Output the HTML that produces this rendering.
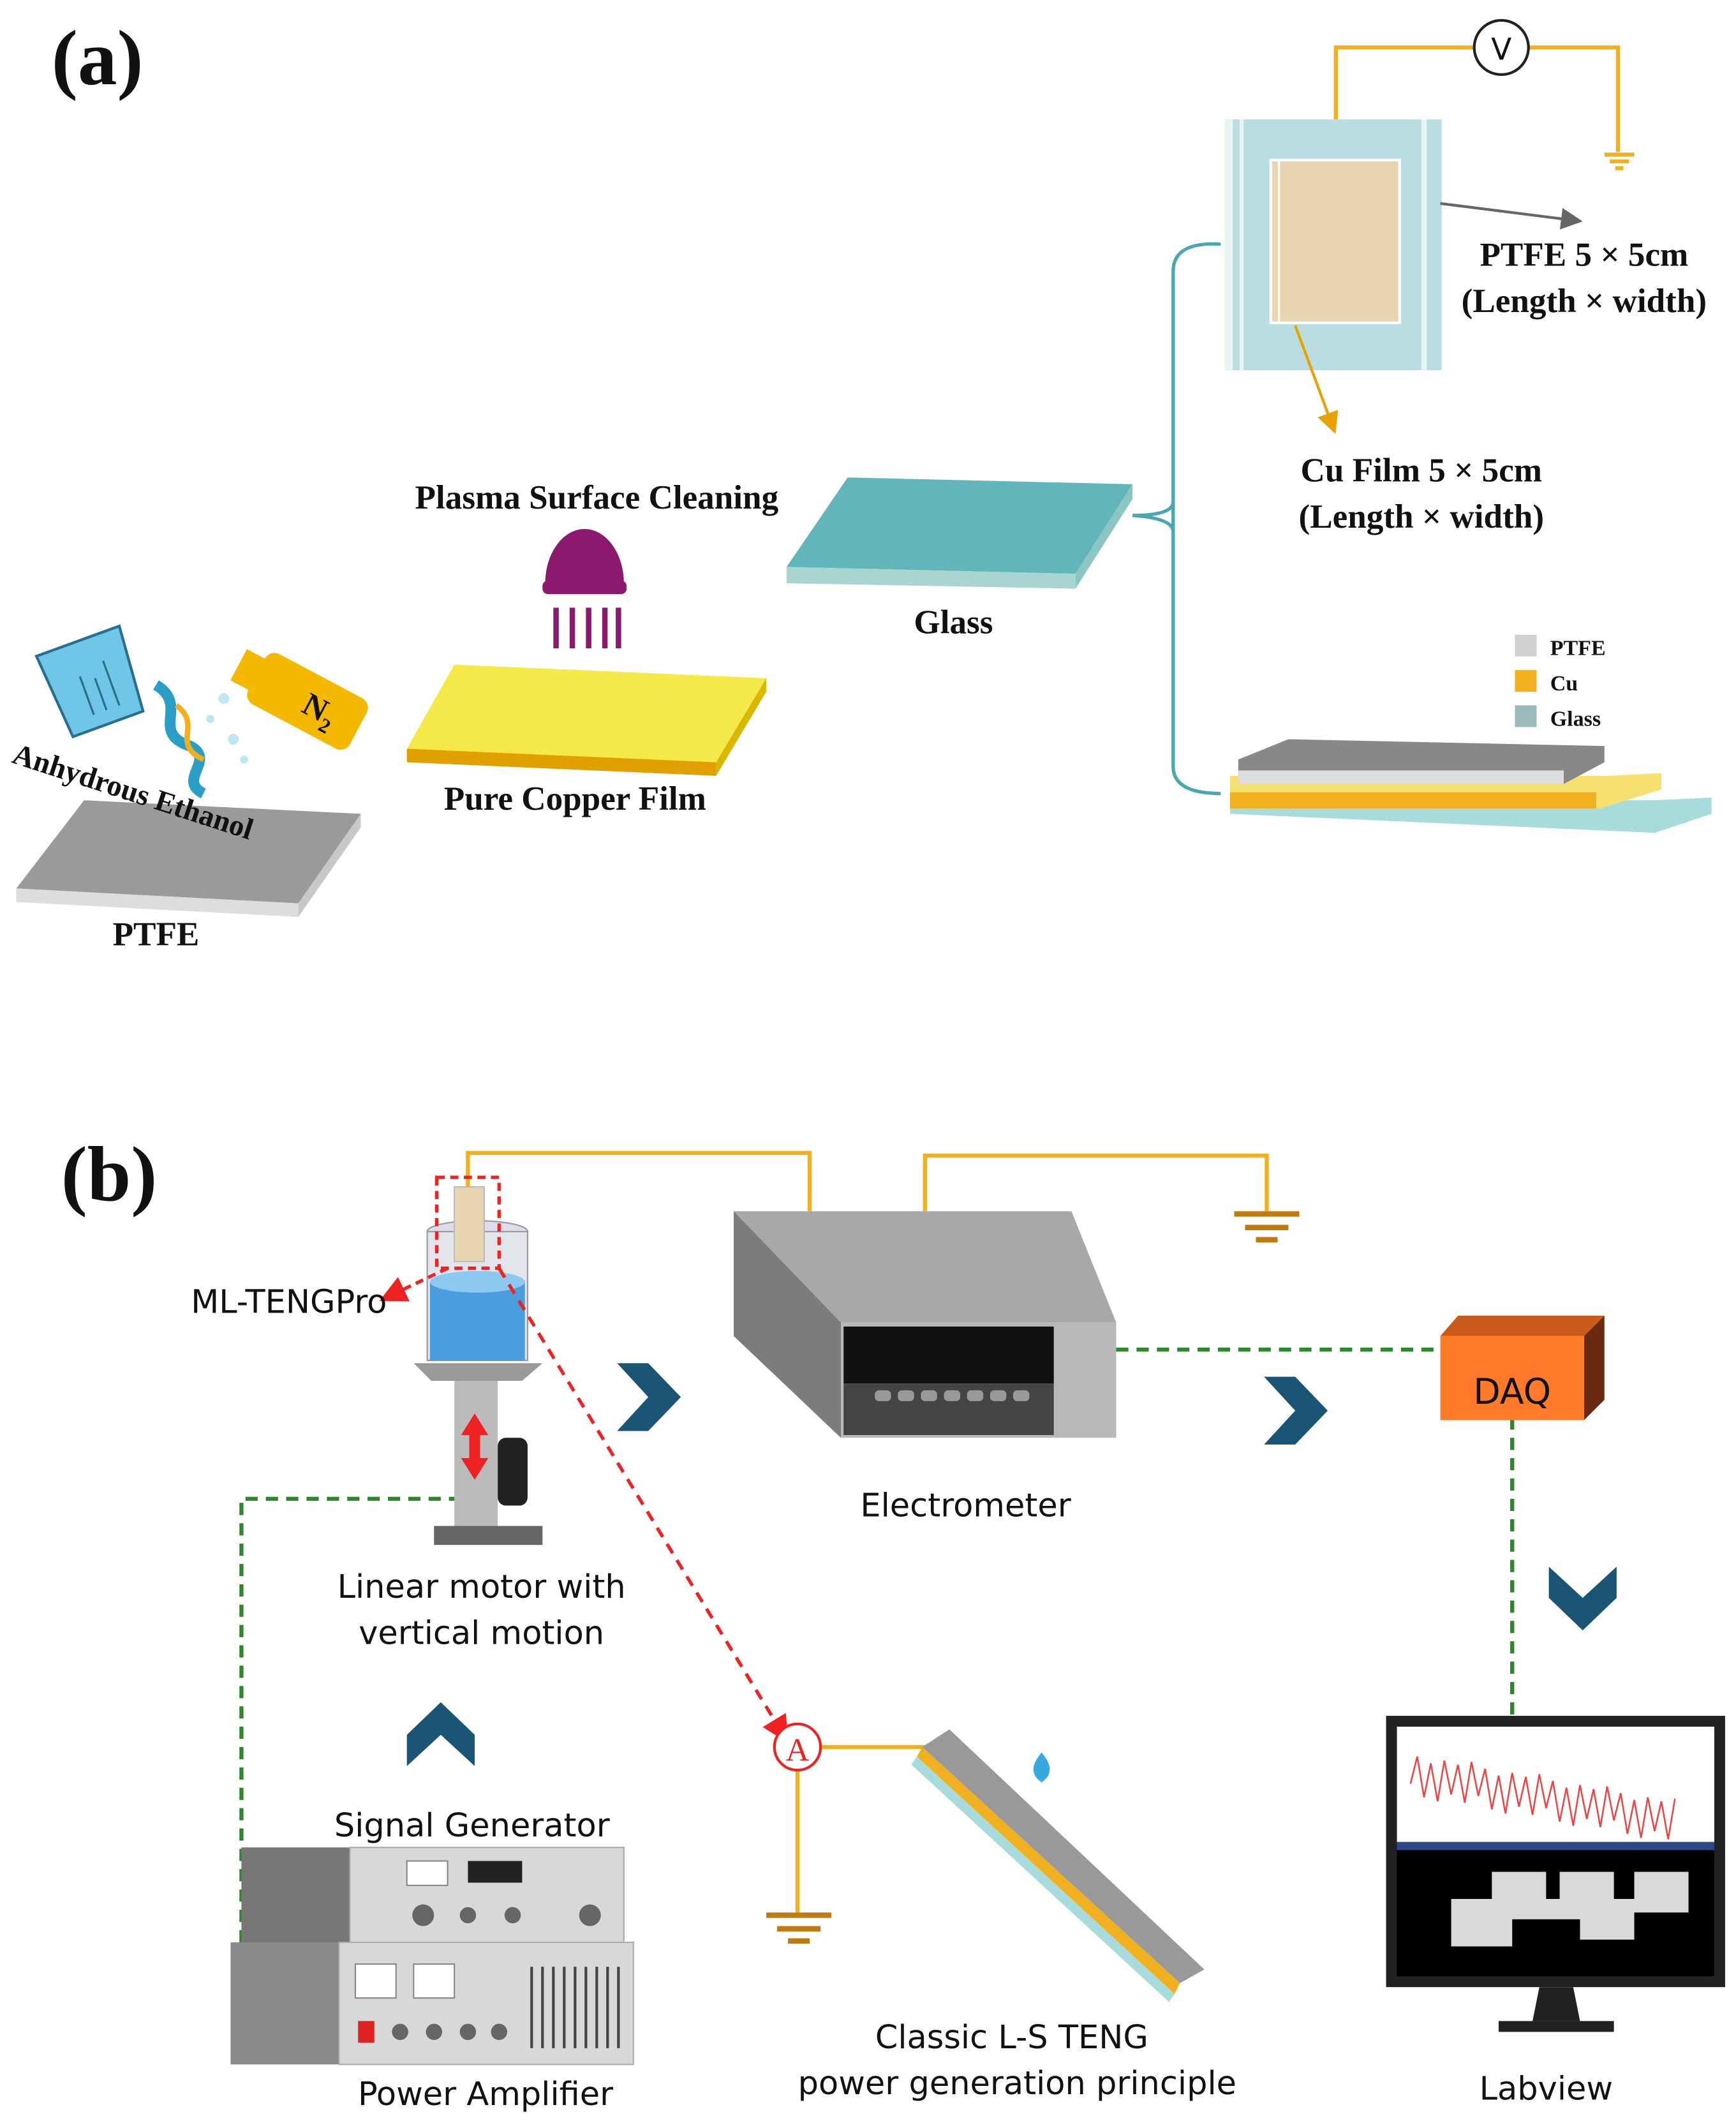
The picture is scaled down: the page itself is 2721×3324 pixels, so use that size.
<!DOCTYPE html>
<html><head><meta charset="utf-8"><style>
html,body{margin:0;padding:0;background:#fff}
svg{display:block}
.s{font-family:"Liberation Serif",serif;font-weight:bold;fill:#111}
.a{font-family:"DejaVu Sans","Liberation Sans",sans-serif;fill:#111}
</style></head><body>
<svg width="2721" height="3324" viewBox="0 0 1280 1563.7" xmlns="http://www.w3.org/2000/svg">
<defs>
<marker id="ag" markerWidth="8" markerHeight="8" refX="7" refY="4" orient="auto"><path d="M0,0 L8,4 L0,8z" fill="#666"/></marker>
<marker id="ao" markerWidth="8" markerHeight="8" refX="7" refY="4" orient="auto"><path d="M0,0 L8,4 L0,8z" fill="#e8a200"/></marker>
<marker id="ar" markerWidth="8" markerHeight="8" refX="7" refY="4" orient="auto"><path d="M0,0 L8,4 L0,8z" fill="#e22"/></marker>
</defs>
<!-- (a) -->
<text x="38" y="62" class="s" font-size="58">(a)</text>
<g stroke="#f0b020" stroke-width="3" fill="none">
<polyline points="985,120 985,35 1087,35"/>
<polyline points="1127,35 1193,35 1193,112"/>
<line x1="1183" y1="114" x2="1205" y2="114"/><line x1="1187" y1="119" x2="1201" y2="119"/><line x1="1191" y1="124" x2="1197" y2="124"/>
</g>
<circle cx="1107" cy="35" r="20" fill="#fff" stroke="#222" stroke-width="2"/>
<text x="1107" y="44" font-size="22" text-anchor="middle" class="a">V</text>
<rect x="903" y="88" width="160" height="185" fill="#b9dde0"/>
<rect x="903" y="88" width="6" height="185" fill="#e8f4f4"/><rect x="914" y="88" width="3" height="185" fill="#e8f4f4"/>
<rect x="1048" y="88" width="4" height="185" fill="#e8f4f4"/>
<rect x="937" y="118" width="95" height="120" fill="#e8d4ae" stroke="#fff" stroke-width="2"/>
<line x1="943" y1="118" x2="943" y2="238" stroke="#fff" stroke-width="1.5"/>
<line x1="1062" y1="150" x2="1165" y2="163" stroke="#666" stroke-width="2" marker-end="url(#ag)"/>
<text x="1168" y="196" class="s" font-size="25" text-anchor="middle">PTFE 5 × 5cm</text>
<text x="1168" y="230" class="s" font-size="25" text-anchor="middle">(Length × width)</text>
<line x1="955" y1="240" x2="984" y2="318" stroke="#e8a200" stroke-width="2" marker-end="url(#ao)"/>
<text x="1048" y="355" class="s" font-size="25" text-anchor="middle">Cu Film  5 × 5cm</text>
<text x="1048" y="389" class="s" font-size="25" text-anchor="middle">(Length × width)</text>
<path d="M900,180 Q865,178 865,200 L865,565 Q865,585 900,585" fill="none" stroke="#4aa6b0" stroke-width="2.5"/>
<path d="M835,380 Q865,380 865,370 M835,380 Q865,382 865,392" fill="none" stroke="#4aa6b0" stroke-width="2.5"/>
<!-- glass -->
<polygon points="580,418 625,352 835,357 793,423" fill="#62b5b8"/>
<polygon points="580,418 793,423 793,434 580,430" fill="#a8d4d2"/>
<polygon points="793,423 835,357 835,368 793,434" fill="#8cc6c4"/>
<text x="703" y="467" class="s" font-size="25" text-anchor="middle">Glass</text>
<!-- plasma -->
<path d="M402,430 A29,40 0 0 1 460,430 Z" fill="#8b1a6e"/>
<rect x="400" y="428" width="62" height="10" rx="4" fill="#8b1a6e"/>
<g stroke="#8b1a6e" stroke-width="4"><line x1="410" y1="448" x2="410" y2="478"/><line x1="422" y1="448" x2="422" y2="478"/><line x1="434" y1="448" x2="434" y2="478"/><line x1="446" y1="448" x2="446" y2="478"/><line x1="456" y1="448" x2="456" y2="478"/></g>
<text x="440" y="375" class="s" font-size="25" text-anchor="middle">Plasma Surface Cleaning</text>
<!-- copper -->
<polygon points="300,552 335,490 565,500 528,562" fill="#f5e94a"/>
<polygon points="300,552 528,562 528,572 300,562" fill="#e0a000"/>
<polygon points="528,562 565,500 565,510 528,572" fill="#d8b800"/>
<text x="424" y="597" class="s" font-size="25" text-anchor="middle">Pure Copper Film</text>
<!-- PTFE -->
<polygon points="12,655 62,590 266,600 220,666" fill="#9a9a9a"/>
<polygon points="12,655 220,666 220,676 12,665" fill="#ddd"/>
<polygon points="220,666 266,600 266,610 220,676" fill="#c8c8c8"/>
<text x="115" y="697" class="s" font-size="25" text-anchor="middle">PTFE</text>
<!-- beaker / N2 -->
<g transform="rotate(-20 70 500)"><path d="M35,470 L100,470 L95,535 L40,535 Z" fill="#6fc6e6" stroke="#2a6e8e" stroke-width="2"/>
<g stroke="#2a6e8e" stroke-width="1.5"><line x1="60" y1="495" x2="60" y2="525"/><line x1="70" y1="500" x2="70" y2="525"/><line x1="80" y1="490" x2="80" y2="525"/></g></g>
<path d="M115,505 C140,520 110,540 140,550 C160,560 130,575 150,585" fill="none" stroke="#2a9ec6" stroke-width="8"/>
<path d="M130,520 C150,535 125,548 150,560" fill="none" stroke="#f0b020" stroke-width="4"/>
<g transform="rotate(28 225 515)"><rect x="185" y="495" width="85" height="42" rx="8" fill="#f5b800"/><rect x="170" y="503" width="18" height="26" fill="#f5b800"/>
<text x="226" y="525" class="s" font-size="24">N<tspan font-size="15" dy="6">2</tspan></text></g>
<g fill="#bfe6f2"><circle cx="165" cy="515" r="4"/><circle cx="155" cy="530" r="3"/><circle cx="172" cy="545" r="4"/><circle cx="180" cy="560" r="3"/></g>
<text x="8" y="562" class="s" font-size="22" transform="rotate(18 8 562)">Anhydrous Ethanol</text>
<!-- legend -->
<rect x="1117" y="468" width="16" height="16" fill="#d0d0d0"/><text x="1143" y="483" class="s" font-size="16">PTFE</text>
<rect x="1117" y="494" width="16" height="16" fill="#f0b020"/><text x="1143" y="509" class="s" font-size="16">Cu</text>
<rect x="1117" y="520" width="16" height="16" fill="#9cbcbc"/><text x="1143" y="535" class="s" font-size="16">Glass</text>
<!-- stack -->
<polygon points="907,590 1220,590 1262,588 1262,600 1220,614 907,600" fill="#a8dcdc"/>
<polygon points="907,572 1185,572 1225,570 1225,582 1180,596 907,596" fill="#f5e070"/>
<rect x="907" y="584" width="270" height="12" fill="#f0b020"/>
<polygon points="913,560 950,545 1183,550 1183,562 1153,578 913,572" fill="#888"/>
<rect x="913" y="568" width="240" height="10" fill="#ddd"/>
<!-- (b) -->
<text x="45" y="885" class="s" font-size="58">(b)</text>
<g stroke="#f0b020" stroke-width="3" fill="none">
<polyline points="345,905 345,850 597,850 597,893"/>
<polyline points="682,893 682,852 934,852 934,893"/>
<polyline points="605,1288 690,1288"/><polyline points="588,1305 588,1410"/>
</g>
<g stroke="#c07a10" stroke-width="4"><line x1="910" y1="895" x2="958" y2="895"/><line x1="918" y1="905" x2="950" y2="905"/><line x1="926" y1="914" x2="942" y2="914"/>
<line x1="565" y1="1412" x2="613" y2="1412"/><line x1="573" y1="1422" x2="605" y2="1422"/><line x1="581" y1="1431" x2="597" y2="1431"/></g>
<!-- electrometer -->
<polygon points="541,893 790,893 823,975 620,975" fill="#a8a8a8"/>
<polygon points="541,893 620,975 620,1060 541,985" fill="#7c7c7c"/>
<rect x="620" y="975" width="203" height="85" fill="#b8b8b8"/>
<rect x="622" y="978" width="155" height="42" fill="#111"/>
<text x="690" y="1004" font-size="12" fill="#ddd" class="a">-.000001  A</text>
<rect x="622" y="1020" width="155" height="38" fill="#444"/>
<g fill="#999"><rect x="645" y="1025" width="12" height="8" rx="3"/><rect x="662" y="1025" width="12" height="8" rx="3"/><rect x="679" y="1025" width="12" height="8" rx="3"/><rect x="696" y="1025" width="12" height="8" rx="3"/><rect x="713" y="1025" width="12" height="8" rx="3"/><rect x="730" y="1025" width="12" height="8" rx="3"/><rect x="747" y="1025" width="12" height="8" rx="3"/></g>
<text x="712" y="1118" class="a" font-size="24" text-anchor="middle">Electrometer</text>
<!-- dashed green -->
<g stroke="#2a8a2a" stroke-width="3" stroke-dasharray="9,6" fill="none">
<polyline points="823,995 1062,995"/><polyline points="1115,1045 1115,1265"/>
<polyline points="355,1105 178,1105 178,1432"/>
</g>
<!-- DAQ -->
<polygon points="1062,985 1075,970 1183,970 1168,985" fill="#c85a1a"/>
<polygon points="1168,985 1183,970 1183,1032 1168,1047" fill="#6a2a10"/>
<rect x="1062" y="985" width="106" height="62" fill="#ff7a2a"/>
<text x="1115" y="1035" class="a" font-size="26" text-anchor="middle">DAQ</text>
<!-- chevrons -->
<g fill="#1a5576">
<polygon points="455,1005 478,1005 502,1030 478,1055 455,1055 478,1030"/>
<polygon points="932,1015 955,1015 979,1040 955,1065 932,1065 955,1040"/>
<polygon points="1142,1155 1142,1178 1167,1202 1192,1178 1192,1155 1167,1178"/>
<polygon points="300,1302 300,1279 325,1255 350,1279 350,1302 325,1279"/>
</g>
<!-- monitor -->
<rect x="1022" y="1265" width="250" height="200" fill="#222"/>
<rect x="1030" y="1273" width="234" height="85" fill="#fff"/>
<path d="M1040,1315 l5,-20 l5,30 l5,-25 l5,28 l5,-30 l5,25 l5,-22 l5,28 l5,-30 l5,25 l5,-20 l5,30 l5,-25 l5,28 l5,-30 l5,25 l5,-22 l5,28 l5,-30 l5,25 l5,-20 l5,30 l5,-25 l5,28 l5,-30 l5,25 l5,-22 l5,28 l5,-30 l5,25 l5,-20 l5,30 l5,-25 l5,28 l5,-30 l5,25 l5,-22 l5,28 l5,-30" fill="none" stroke="#e44" stroke-width="1.2"/>
<rect x="1030" y="1358" width="234" height="6" fill="#2a4a8a"/>
<rect x="1030" y="1364" width="234" height="93" fill="#000"/>
<path d="M1070,1400 h30 v-20 h40 v20 h10 v-20 h40 v20 h15 v-20 h40 v30 h-40 v20 h-40 v-15 h-50 v20 h-45 z" fill="#fff" opacity="0.85"/>
<polygon points="1135,1465 1160,1465 1165,1490 1130,1490" fill="#222"/>
<rect x="1105" y="1490" width="85" height="8" fill="#222"/>
<text x="1140" y="1548" class="a" font-size="24" text-anchor="middle">Labview</text>
<!-- ML-TENGPro -->
<ellipse cx="352" cy="908" rx="37" ry="8" fill="#dde" stroke="#999"/>
<rect x="315" y="908" width="74" height="95" fill="#e2e6ea" stroke="#999"/>
<rect x="317" y="945" width="70" height="58" fill="#4a9ee0"/>
<ellipse cx="352" cy="945" rx="35" ry="8" fill="#8cc8f0"/>
<rect x="335" y="875" width="22" height="55" fill="#e8d4ae" stroke="#bbb"/>
<rect x="322" y="868" width="46" height="67" fill="none" stroke="#e22" stroke-width="2.5" stroke-dasharray="6,4"/>
<line x1="330" y1="935" x2="282" y2="958" stroke="#e22" stroke-width="2.5" stroke-dasharray="6,4" marker-end="url(#ar)"/>
<text x="213" y="968" class="a" font-size="24" text-anchor="middle">ML-TENGPro</text>
<polygon points="305,1005 400,1005 385,1018 318,1018" fill="#999"/>
<rect x="335" y="1018" width="32" height="115" fill="#bbb"/>
<rect x="367" y="1060" width="22" height="50" rx="6" fill="#222"/>
<rect x="320" y="1125" width="80" height="14" fill="#666"/>
<polygon points="350,1042 340,1058 346,1058 346,1075 340,1075 350,1091 360,1075 354,1075 354,1058 360,1058" fill="#e22"/>
<text x="355" y="1178" class="a" font-size="24" text-anchor="middle">Linear motor with</text>
<text x="355" y="1212" class="a" font-size="24" text-anchor="middle">vertical motion</text>
<line x1="368" y1="935" x2="580" y2="1283" stroke="#e22" stroke-width="2.5" stroke-dasharray="8,6" marker-end="url(#ar)"/>
<circle cx="588" cy="1288" r="17" fill="#fff" stroke="#e22" stroke-width="2"/>
<text x="588" y="1298" class="s" font-size="24" fill="#e22" text-anchor="middle" style="fill:#e22;font-weight:normal">A</text>
<!-- slanted plate -->
<polygon points="680,1288 700,1275 888,1452 870,1462" fill="#999"/>
<polygon points="680,1288 870,1462 866,1470 676,1295" fill="#f0b020"/>
<polygon points="676,1295 866,1470 862,1476 672,1301" fill="#a8dcdc"/>
<path d="M768,1292 q12,14 0,22 q-12,-8 0,-22z" fill="#3aa8e0"/>
<text x="746" y="1510" class="a" font-size="24" text-anchor="middle">Classic L-S TENG</text>
<text x="750" y="1544" class="a" font-size="24" text-anchor="middle">power generation principle</text>
<!-- equipment -->
<text x="348" y="1354" class="a" font-size="24" text-anchor="middle">Signal  Generator</text>
<rect x="178" y="1362" width="80" height="70" fill="#777"/>
<rect x="258" y="1362" width="202" height="70" fill="#d8d8d8" stroke="#aaa"/>
<rect x="345" y="1372" width="40" height="16" fill="#222"/>
<rect x="300" y="1372" width="30" height="18" fill="#fff" stroke="#888"/>
<g fill="#666"><circle cx="312" cy="1412" r="8"/><circle cx="345" cy="1412" r="6"/><circle cx="378" cy="1412" r="6"/><circle cx="435" cy="1412" r="8"/></g>
<rect x="170" y="1432" width="80" height="90" fill="#8a8a8a"/>
<rect x="250" y="1432" width="217" height="90" fill="#d8d8d8" stroke="#aaa"/>
<rect x="262" y="1448" width="30" height="25" fill="#fff" stroke="#888"/><rect x="305" y="1448" width="30" height="25" fill="#fff" stroke="#888"/>
<g stroke="#444" stroke-width="2"><line x1="392" y1="1450" x2="392" y2="1510"/><line x1="400" y1="1450" x2="400" y2="1510"/><line x1="408" y1="1450" x2="408" y2="1510"/><line x1="416" y1="1450" x2="416" y2="1510"/><line x1="424" y1="1450" x2="424" y2="1510"/><line x1="432" y1="1450" x2="432" y2="1510"/><line x1="440" y1="1450" x2="440" y2="1510"/><line x1="448" y1="1450" x2="448" y2="1510"/><line x1="456" y1="1450" x2="456" y2="1510"/></g>
<rect x="264" y="1490" width="12" height="16" fill="#d22"/>
<g fill="#666"><circle cx="295" cy="1498" r="6"/><circle cx="320" cy="1498" r="6"/><circle cx="345" cy="1498" r="6"/><circle cx="368" cy="1498" r="6"/></g>
<text x="358" y="1552" class="a" font-size="24" text-anchor="middle">Power Amplifier</text>
</svg>
</body></html>
